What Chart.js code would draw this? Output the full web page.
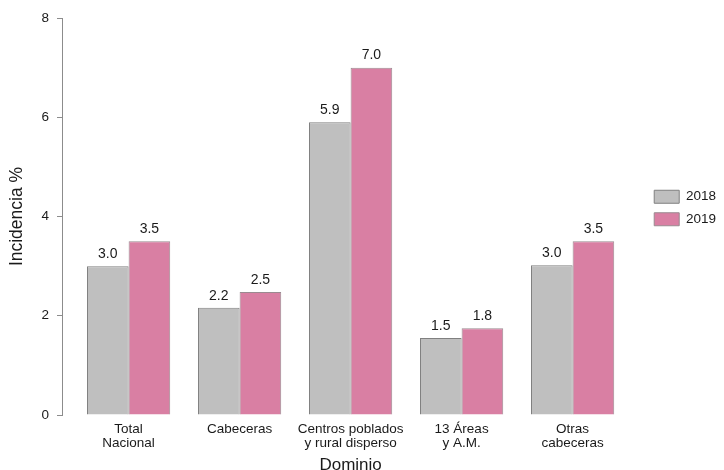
<!DOCTYPE html>
<html>
<head>
<meta charset="utf-8">
<script src="https://cdn.jsdelivr.net/npm/chart.js@4"></script>
<style>
  html, body { margin: 0; padding: 0; background: #fff; }
  #wrap { width: 724px; height: 470px; }
</style>
</head>
<body>
<div id="wrap"><canvas id="myChart"></canvas></div>
<script>
// categories (two-line labels) and series
const categories = [
  ["Total", "Nacional"],
  ["Cabeceras", ""],
  ["Centros poblados", "y rural disperso"],
  ["13 Áreas", "y A.M."],
  ["Otras", "cabeceras"]
];
const values2018 = [3.0, 2.16, 5.9, 1.55, 3.02];
const values2019 = [3.5, 2.48, 7.0, 1.75, 3.5];
const labels2018 = ["3.0", "2.2", "5.9", "1.5", "3.0"];
const labels2019 = ["3.5", "2.5", "7.0", "1.8", "3.5"];
const yTicks = [0, 2, 4, 6, 8];

const textColor = "#1a1a1a";
const axisGray = "#8c8c8c";
const font = "'Liberation Sans', Arial, sans-serif";

// value labels above bars
const barLabels = {
  id: "barLabels",
  afterDatasetsDraw(chart) {
    const ctx = chart.ctx;
    const texts = [labels2018, labels2019];
    ctx.save();
    ctx.font = "14px " + font;
    ctx.fillStyle = textColor;
    ctx.textAlign = "center";
    ctx.textBaseline = "bottom";
    chart.data.datasets.forEach((ds, i) => {
      const meta = chart.getDatasetMeta(i);
      meta.data.forEach((bar, j) => {
        ctx.fillText(texts[i][j], bar.x, bar.y - 5);
      });
    });
    ctx.restore();
  }
};

// nudge the legend up/right a bit (ggplot centres it on the panel)
const legendShift = {
  id: "legendShift",
  beforeDraw(chart) {
    const lg = chart.legend;
    if (lg && !lg._shifted) {
      lg.top -= 36;
      lg.bottom -= 36;
      lg.left += 6;
      lg.right += 6;
      lg._shifted = true;
    }
  }
};

new Chart("myChart", {
  type: "bar",
  data: {
    labels: categories,
    datasets: [
      {
        label: "2018",
        data: values2018,
        backgroundColor: "#bfbfbf",
        borderColor: "#808080",
        borderWidth: 1
      },
      {
        label: "2019",
        data: values2019,
        backgroundColor: "#d97fa3",
        borderColor: "#9a8a90",
        borderWidth: 1
      }
    ]
  },
  options: {
    responsive: true,
    maintainAspectRatio: false,
    animation: false,
    datasets: { bar: { categoryPercentage: 0.75, barPercentage: 1.0 } },
    layout: { padding: { top: 18, right: 4, bottom: 0, left: 0 } },
    plugins: {
      legend: {
        position: "right",
        labels: {
          boxWidth: 25,
          boxHeight: 13,
          padding: 9,
          color: textColor,
          font: { family: font, size: 13.5 }
        }
      },
      tooltip: { enabled: false }
    },
    scales: {
      x: {
        offset: true,
        grid: { display: false, drawTicks: false },
        border: { display: false },
        ticks: {
          color: textColor,
          font: { family: font, size: 13.5, lineHeight: 1.05 },
          padding: 7,
          maxRotation: 0,
          autoSkip: false
        },
        title: {
          display: true,
          text: "Dominio",
          color: textColor,
          font: { family: font, size: 17, lineHeight: 0.6 },
          padding: { top: 0, bottom: 0 }
        },
        afterBuildTicks(scale) {
          // ggplot-style discrete expansion (0.6 of a band on each side)
          scale._startValue = -0.6;
          scale._valueRange = categories.length + 0.2;
        },
        afterFit(scale) { scale.height = 55; }
      },
      y: {
        min: 0,
        max: 8,
        afterBuildTicks(scale) {
          scale.ticks = yTicks.map(v => ({ value: v }));
        },
        grid: {
          drawOnChartArea: false,
          drawTicks: true,
          tickLength: 5,
          color: axisGray
        },
        border: { display: true, color: axisGray, width: 1 },
        ticks: {
          color: textColor,
          font: { family: font, size: 13.5 },
          padding: 8
        },
        title: {
          display: true,
          text: "Incidencia %",
          color: textColor,
          font: { family: font, size: 17.5 },
          padding: { top: 7, bottom: 0 }
        },
        afterFit(scale) { scale.width = 62; }
      }
    }
  },
  plugins: [barLabels, legendShift]
});
</script>
</body>
</html>
